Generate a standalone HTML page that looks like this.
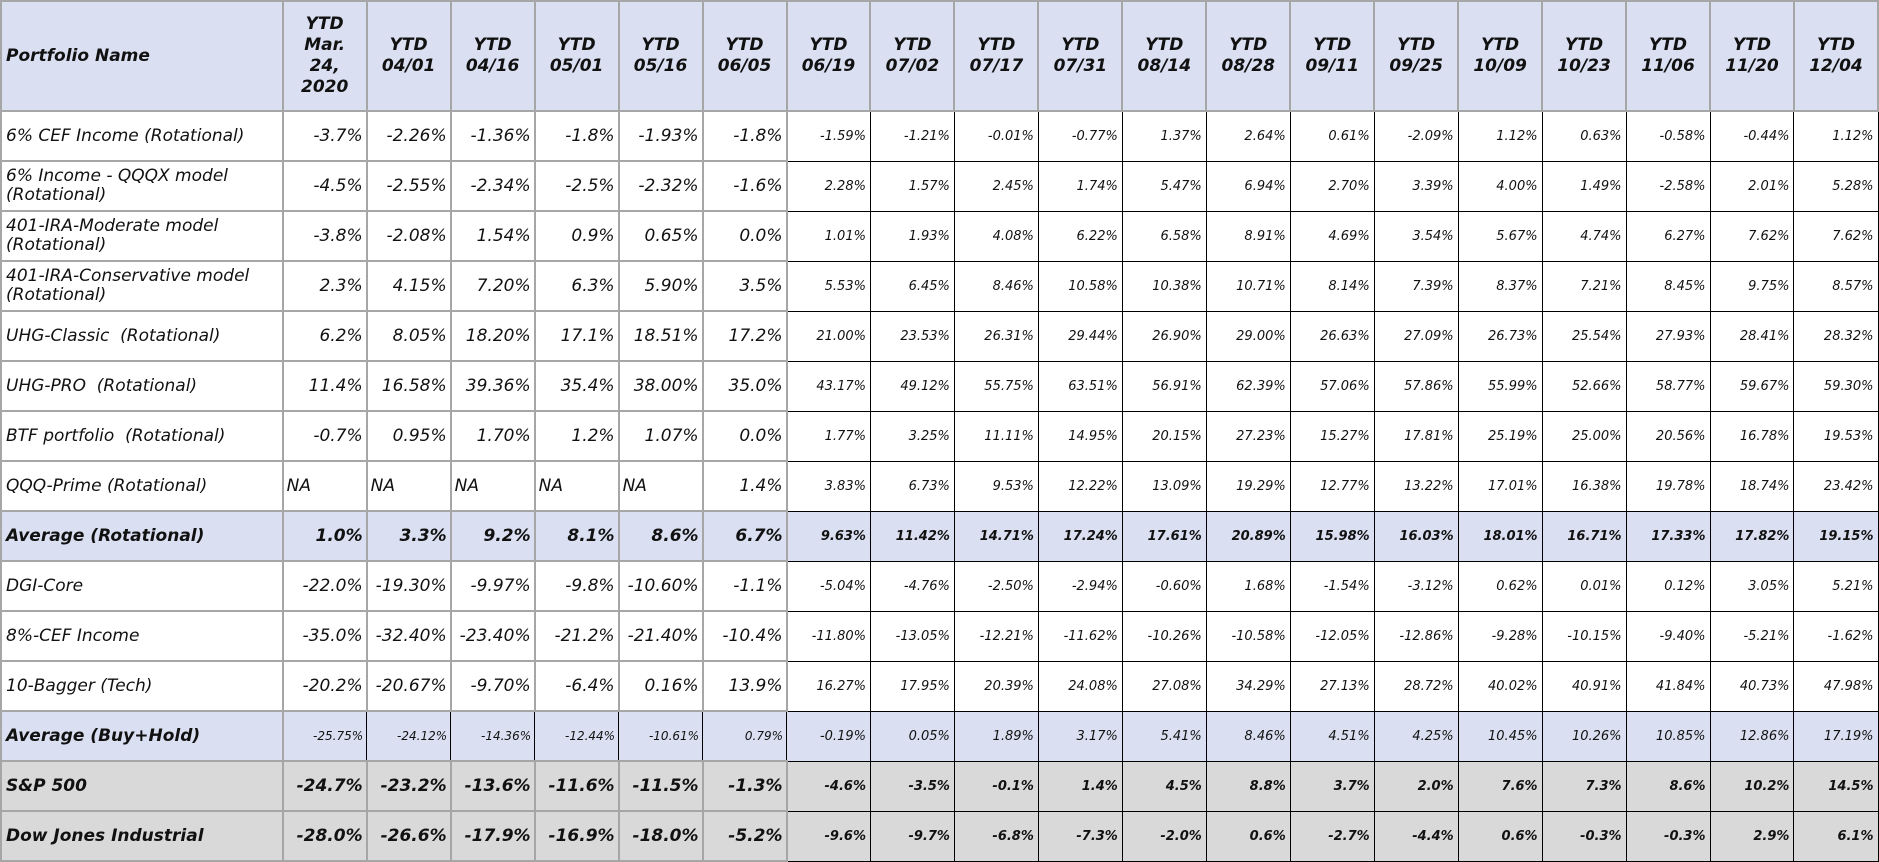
<!DOCTYPE html>
<html><head><meta charset="utf-8">
<style>
html,body{margin:0;padding:0;background:#fff;}
body{width:1879px;height:861px;overflow:hidden;font-family:"DejaVu Sans","Liberation Sans",sans-serif;color:#111;}
table{border-collapse:collapse;table-layout:fixed;position:absolute;left:0;top:0;}
td,th{padding:0 3px;overflow:hidden;white-space:nowrap;font-style:italic;}
th{height:108px;background:#dae0f2;border:2px solid #a6a6a6;font-weight:bold;font-size:17px;line-height:21px;text-align:center;white-space:normal;}
th.nm{text-align:left;padding-left:4px;}
td{height:48px;border:2px solid #a6a6a6;text-align:right;font-size:17px;}
td.nm{text-align:left;padding-left:4px;line-height:19px;white-space:normal;font-size:17px;}
td.r{font-size:13px;border:1px solid #000;padding-right:4px;}
tr.avg td{background:#dae0f2;}
tr.idx td{background:#d9d9d9;font-weight:bold;}
tr.avg.rot td{font-weight:bold;}
tr.bh td.v{font-size:12px;border-left:1px solid #000;border-right:1px solid #000;}
tr.bh td.r{font-size:13px;}
tr.bh td.nm{font-weight:bold;font-size:17px;}
td.na{text-align:left;}
</style></head>
<body>
<table id="t"></table>
<script>
const headers=["YTD Mar. 24, 2020","YTD 04/01","YTD 04/16","YTD 05/01","YTD 05/16","YTD 06/05","YTD 06/19","YTD 07/02","YTD 07/17","YTD 07/31","YTD 08/14","YTD 08/28","YTD 09/11","YTD 09/25","YTD 10/09","YTD 10/23","YTD 11/06","YTD 11/20","YTD 12/04"];
const names=["6% CEF Income (Rotational)","6% Income - QQQX model (Rotational)","401-IRA-Moderate model (Rotational)","401-IRA-Conservative model (Rotational)","UHG-Classic&nbsp; (Rotational)","UHG-PRO&nbsp; (Rotational)","BTF portfolio&nbsp; (Rotational)","QQQ-Prime (Rotational)","Average (Rotational)","DGI-Core","8%-CEF Income","10-Bagger (Tech)","Average (Buy+Hold)","S&amp;P 500","Dow Jones Industrial"];
const rowTypes=["","","","","","","","","avg rot","","","","avg bh","idx","idx"];
const r1=["-3.7%","-2.26%","-1.36%","-1.8%","-1.93%","-1.8%","-1.59%","-1.21%","-0.01%","-0.77%","1.37%","2.64%","0.61%","-2.09%","1.12%","0.63%","-0.58%","-0.44%","1.12%"];
const r2=["-4.5%","-2.55%","-2.34%","-2.5%","-2.32%","-1.6%","2.28%","1.57%","2.45%","1.74%","5.47%","6.94%","2.70%","3.39%","4.00%","1.49%","-2.58%","2.01%","5.28%"];
const r3=["-3.8%","-2.08%","1.54%","0.9%","0.65%","0.0%","1.01%","1.93%","4.08%","6.22%","6.58%","8.91%","4.69%","3.54%","5.67%","4.74%","6.27%","7.62%","7.62%"];
const r4=["2.3%","4.15%","7.20%","6.3%","5.90%","3.5%","5.53%","6.45%","8.46%","10.58%","10.38%","10.71%","8.14%","7.39%","8.37%","7.21%","8.45%","9.75%","8.57%"];
const r5=["6.2%","8.05%","18.20%","17.1%","18.51%","17.2%","21.00%","23.53%","26.31%","29.44%","26.90%","29.00%","26.63%","27.09%","26.73%","25.54%","27.93%","28.41%","28.32%"];
const r6=["11.4%","16.58%","39.36%","35.4%","38.00%","35.0%","43.17%","49.12%","55.75%","63.51%","56.91%","62.39%","57.06%","57.86%","55.99%","52.66%","58.77%","59.67%","59.30%"];
const r7=["-0.7%","0.95%","1.70%","1.2%","1.07%","0.0%","1.77%","3.25%","11.11%","14.95%","20.15%","27.23%","15.27%","17.81%","25.19%","25.00%","20.56%","16.78%","19.53%"];
const r8=["NA","NA","NA","NA","NA","1.4%","3.83%","6.73%","9.53%","12.22%","13.09%","19.29%","12.77%","13.22%","17.01%","16.38%","19.78%","18.74%","23.42%"];
const r9=["1.0%","3.3%","9.2%","8.1%","8.6%","6.7%","9.63%","11.42%","14.71%","17.24%","17.61%","20.89%","15.98%","16.03%","18.01%","16.71%","17.33%","17.82%","19.15%"];
const r10=["-22.0%","-19.30%","-9.97%","-9.8%","-10.60%","-1.1%","-5.04%","-4.76%","-2.50%","-2.94%","-0.60%","1.68%","-1.54%","-3.12%","0.62%","0.01%","0.12%","3.05%","5.21%"];
const r11=["-35.0%","-32.40%","-23.40%","-21.2%","-21.40%","-10.4%","-11.80%","-13.05%","-12.21%","-11.62%","-10.26%","-10.58%","-12.05%","-12.86%","-9.28%","-10.15%","-9.40%","-5.21%","-1.62%"];
const r12=["-20.2%","-20.67%","-9.70%","-6.4%","0.16%","13.9%","16.27%","17.95%","20.39%","24.08%","27.08%","34.29%","27.13%","28.72%","40.02%","40.91%","41.84%","40.73%","47.98%"];
const r13=["-25.75%","-24.12%","-14.36%","-12.44%","-10.61%","0.79%","-0.19%","0.05%","1.89%","3.17%","5.41%","8.46%","4.51%","4.25%","10.45%","10.26%","10.85%","12.86%","17.19%"];
const r14=["-24.7%","-23.2%","-13.6%","-11.6%","-11.5%","-1.3%","-4.6%","-3.5%","-0.1%","1.4%","4.5%","8.8%","3.7%","2.0%","7.6%","7.3%","8.6%","10.2%","14.5%"];
const r15=["-28.0%","-26.6%","-17.9%","-16.9%","-18.0%","-5.2%","-9.6%","-9.7%","-6.8%","-7.3%","-2.0%","0.6%","-2.7%","-4.4%","0.6%","-0.3%","-0.3%","2.9%","6.1%"];
const rows=[r1,r2,r3,r4,r5,r6,r7,r8,r9,r10,r11,r12,r13,r14,r15];
const t=document.getElementById('t');
const cg=document.createElement('colgroup');
let c=document.createElement('col');c.style.width='282px';cg.appendChild(c);
headers.forEach(()=>{const k=document.createElement('col');k.style.width='84px';cg.appendChild(k);});
t.appendChild(cg);
const hr=document.createElement('tr');


const h0=document.createElement('th');h0.className='nm';h0.textContent='Portfolio Name';


hr.appendChild(h0);
headers.forEach(h=>{const th=document.createElement('th');
th.innerHTML=h.replace('YTD ','YTD<br>').replace('24, ','24,<br>');


hr.appendChild(th);});
t.appendChild(hr);
rows.forEach((vals,i)=>{
 const tr=document.createElement('tr');tr.className=rowTypes[i];
 
 
 const n=document.createElement('td');n.className='nm';n.innerHTML=names[i];
 
 
 tr.appendChild(n);
 vals.forEach((v,j)=>{const td=document.createElement('td');td.textContent=v;
  let cls='v';if(j>=6)cls+=' r';if(v==='NA')cls+=' na';td.className=cls;
  
  
  tr.appendChild(td);});
 t.appendChild(tr);
});
</script>
</body></html>
